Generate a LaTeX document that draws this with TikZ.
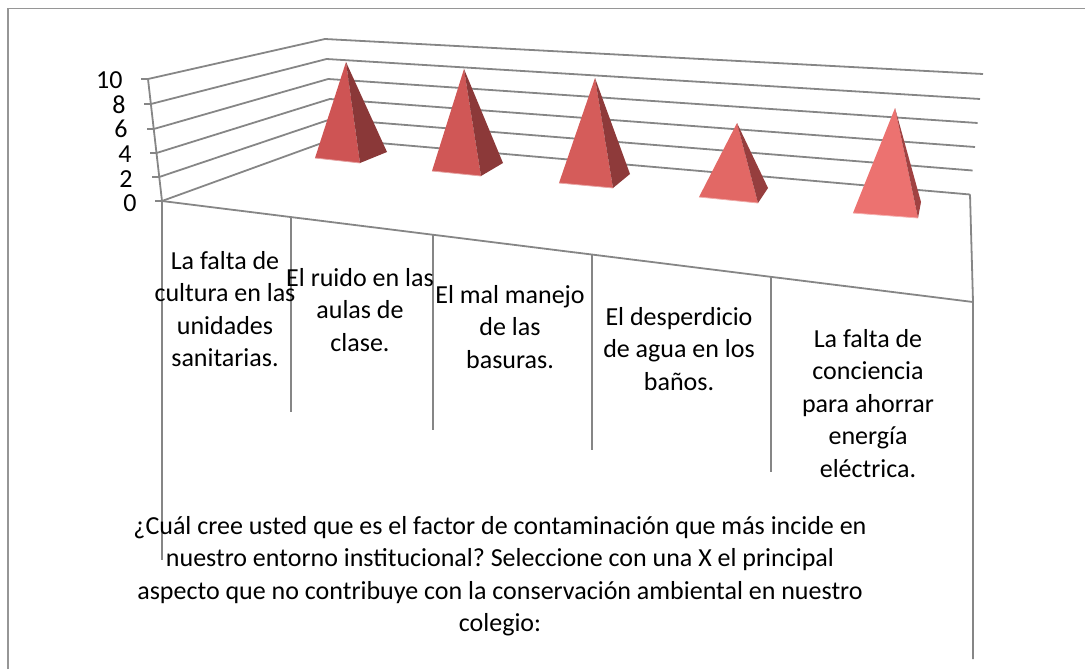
\documentclass[tikz,border=0pt]{standalone}
\usepackage{fontspec}
\setmainfont{Carlito}
\frenchspacing
\newcommand\chartfont{\fontsize{13pt}{16.25pt}\selectfont}
\definecolor{gridgray}{RGB}{134,134,134}
\definecolor{bordergray}{RGB}{150,150,150}
\definecolor{fA}{RGB}{206,84,84}\definecolor{sA}{RGB}{138,56,56}
\definecolor{fB}{RGB}{208,87,86}\definecolor{sB}{RGB}{140,57,57}
\definecolor{fC}{RGB}{213,92,90}\definecolor{sC}{RGB}{142,58,58}
\definecolor{fD}{RGB}{226,104,101}\definecolor{sD}{RGB}{150,62,62}
\definecolor{fE}{RGB}{236,114,112}\definecolor{sE}{RGB}{160,66,66}
\tikzset{
  gridline/.style={draw=gridgray, line width=0.9pt},
  frameline/.style={draw=bordergray, line width=0.8pt},
  lbl/.style={font=\chartfont, align=center, inner sep=0pt, anchor=north},
  ylbl/.style={font=\chartfont, inner sep=0pt, anchor=base east},
}
\begin{document}
\begin{tikzpicture}[x=0.5pt,y=-0.5pt]
\useasboundingbox (0,0) rectangle (1085,669);
% outer frame (only top and left sides are visible)
\coordinate (FrBL) at (8,669);
\coordinate (FrTL) at (8,8.5);
\coordinate (FrTR) at (1085,8.5);
\draw[frameline] (FrBL) -- (FrTL) -- (FrTR);
% left wall axis points
\coordinate (A0) at (162,201);
\coordinate (A2) at (159.2,177);
\coordinate (A4) at (156.5,153);
\coordinate (A6) at (153.7,129);
\coordinate (A8) at (150.9,104);
\coordinate (A10) at (148,79);
% back-left corners
\coordinate (B0) at (333,139);
\coordinate (B2) at (331.4,119);
\coordinate (B4) at (329.8,99);
\coordinate (B6) at (328.2,79);
\coordinate (B8) at (326.6,59);
\coordinate (B10) at (325,39);
% back-right ends
\coordinate (C0) at (970,194.5);
\coordinate (C2) at (972.6,170.5);
\coordinate (C4) at (975,147);
\coordinate (C6) at (977.6,123);
\coordinate (C8) at (980,99);
\coordinate (C10) at (983,74);
% gridlines
\foreach \k in {0,2,4,6,8,10}{
  \draw[gridline] (A\k) -- (B\k) -- (C\k);
  \draw[gridline] (A\k) -- ++(-7,0);
}
% value axis
\draw[gridline] (A0) -- (A10);
% floor
\coordinate (F) at (973,302);
\coordinate (Fbot) at (973,659);
\coordinate (Lbot) at (162,560);
\draw[gridline] (A0) -- (F);
\draw[gridline] (C0) -- (F) -- (Fbot);
\draw[gridline] (A0) -- (Lbot);
% category dividers
\coordinate (D1t) at (291,217); \coordinate (D1b) at (291,412);
\coordinate (D2t) at (433,235); \coordinate (D2b) at (433,430);
\coordinate (D3t) at (592,254); \coordinate (D3b) at (592,450);
\coordinate (D4t) at (771,277); \coordinate (D4b) at (771,472);
\draw[gridline] (D1t) -- (D1b);
\draw[gridline] (D2t) -- (D2b);
\draw[gridline] (D3t) -- (D3b);
\draw[gridline] (D4t) -- (D4b);
% y labels
\node[ylbl] (y10) at (123,88) {10};
\node[ylbl] (y8) at (126,113) {8};
\node[ylbl] (y6) at (128,137) {6};
\node[ylbl] (y4) at (132,162) {4};
\node[ylbl] (y2) at (133,187) {2};
\node[ylbl] (y0) at (137,211) {0};
% pyramids
% 1
\coordinate (P1a) at (346,62); \coordinate (P1l) at (315,158);
\coordinate (P1f) at (360,163); \coordinate (P1r) at (387,152);
\fill[fA] (P1a) -- (P1l) -- (P1f) -- cycle;
\fill[sA] (P1a) -- (P1f) -- (P1r) -- cycle;
\draw[fA!55!white, line width=0.4pt] (P1l) -- (P1f);
% 2
\coordinate (P2a) at (464,69); \coordinate (P2l) at (432,171);
\coordinate (P2f) at (481,176); \coordinate (P2r) at (503,163);
\fill[fB] (P2a) -- (P2l) -- (P2f) -- cycle;
\fill[sB] (P2a) -- (P2f) -- (P2r) -- cycle;
\draw[fB!55!white, line width=0.4pt] (P2l) -- (P2f);
% 3
\coordinate (P3a) at (595,78); \coordinate (P3l) at (559,183);
\coordinate (P3f) at (613,188); \coordinate (P3r) at (630,174);
\fill[fC] (P3a) -- (P3l) -- (P3f) -- cycle;
\fill[sC] (P3a) -- (P3f) -- (P3r) -- cycle;
\draw[fC!55!white, line width=0.4pt] (P3l) -- (P3f);
% 4
\coordinate (P4a) at (737,123); \coordinate (P4l) at (699,197);
\coordinate (P4f) at (758,203); \coordinate (P4r) at (768,188);
\fill[fD] (P4a) -- (P4l) -- (P4f) -- cycle;
\fill[sD] (P4a) -- (P4f) -- (P4r) -- cycle;
\draw[fD!55!white, line width=0.4pt] (P4l) -- (P4f);
% 5
\coordinate (P5a) at (895,108); \coordinate (P5l) at (853,213);
\coordinate (P5f) at (918,218); \coordinate (P5r) at (921,202);
\fill[fE] (P5a) -- (P5l) -- (P5f) -- cycle;
\fill[sE] (P5a) -- (P5f) -- (P5r) -- cycle;
\draw[fE!55!white, line width=0.4pt] (P5l) -- (P5f);
% category labels
\node[lbl] (c1) at (225,246.3) {\strut La falta de\\cultura en las\\unidades\\sanitarias.};
\node[lbl] (c2) at (360,263.3) {\strut El ruido en las\\aulas de\\clase.};
\node[lbl] (c3) at (510,280.3) {\strut El mal manejo\\de las\\basuras.};
\node[lbl] (c4) at (679,302.3) {\strut El desperdicio\\de agua en los\\baños.};
\node[lbl] (c5) at (868,324.3) {\strut La falta de\\conciencia\\para ahorrar\\energía\\eléctrica.};
% title
\node[lbl] (title) at (500,511.3) {\strut ¿Cuál cree usted que es el factor de contaminación que más incide en\\nuestro entorno institucional? Seleccione con una X el principal\\aspecto que no contribuye con la conservación ambiental en nuestro\\colegio:};
\end{tikzpicture}
\end{document}
